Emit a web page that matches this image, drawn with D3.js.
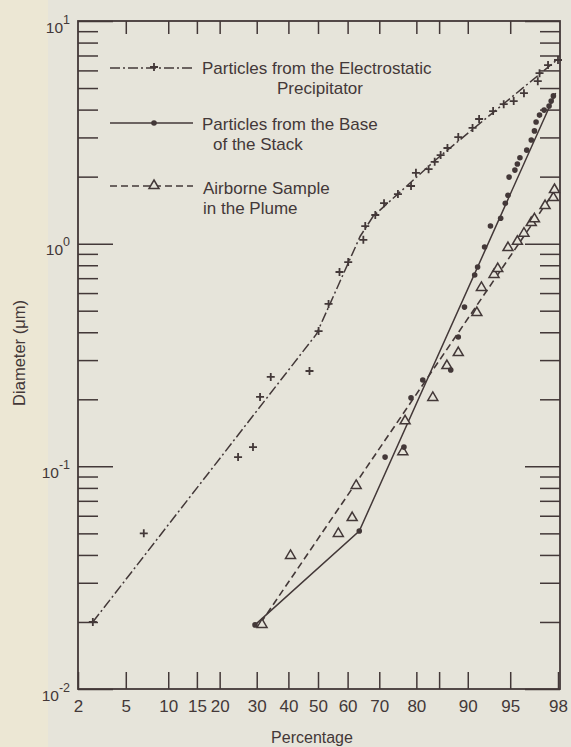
<!doctype html>
<html lang="en">
<head>
  <meta charset="UTF-8">
  <title>Particle size distribution</title>
  <script src="https://d3js.org/d3.v7.min.js"></script>
  <style>
    body { margin: 0; background: #e7e5db; }
    svg { display: block; font-family: "Liberation Sans", Arial, sans-serif; }
  </style>
</head>
<body>
  <script>

    // percentages on the probability axis
    var xTicks  = [2, 5, 10, 15, 20, 30, 40, 50, 60, 70, 80, 85, 90, 95, 98];
    var xLabels = ["2", "5", "10", "15", "20", "30", "40", "50", "60", "70", "80", "", "90", "95", "98"];
    var yMajor  = [0.01, 0.1, 1, 10];
    var yExp    = ["-2", "-1", "0", "1"];

    // particles from the electrostatic precipitator (+)
    var esPct = [2.7, 6.8, 24.7, 28.9, 31.0, 34.3, 47.1, 50.2, 53.6, 57.3, 60.2, 65.1, 65.7, 68.8, 71.4, 75.3, 78.7,
                 79.9, 82.8, 84.1, 85.3, 86.6, 88.5, 90.7, 91.6, 93.3, 94.4, 95.3, 96.1, 97.0, 97.1, 97.55, 98.0];
    var esDia = [0.020, 0.050, 0.110, 0.122, 0.205, 0.252, 0.268, 0.405, 0.536, 0.746, 0.827, 1.04, 1.20, 1.345, 1.52, 1.67, 1.815,
                 2.08, 2.16, 2.33, 2.50, 2.69, 3.01, 3.31, 3.63, 3.94, 4.23, 4.37, 4.74, 5.37, 5.83, 6.34, 6.68];
    var esFitPct = [2.7, 49.5, 64.1, 68.2, 84.7, 98.0];
    var esFitDia = [0.020, 0.393, 1.08, 1.33, 2.42, 6.75];

    // particles from the base of the stack (dots)
    var stPct = [29.5, 63.8, 71.7, 76.9, 78.7, 81.5, 87.2, 88.5, 89.5, 91.0, 91.4, 92.3, 93.0, 94.1, 94.55, 94.8, 94.9,
                 95.4, 95.6, 95.8, 96.3, 96.6, 96.8, 96.9, 97.1, 97.35, 97.6, 97.7, 97.8];
    var stDia = [0.0194, 0.0512, 0.110, 0.122, 0.203, 0.244, 0.271, 0.381, 0.519, 0.723, 0.786, 0.966, 1.20, 1.30, 1.52, 1.65, 1.99,
                 2.14, 2.28, 2.43, 2.63, 2.92, 3.21, 3.52, 3.78, 3.98, 4.15, 4.37, 4.61];
    var stFitPct = [29.5, 63.8, 97.9];
    var stFitDia = [0.0194, 0.0512, 4.75];

    // airborne sample in the plume (triangles)
    var plPct = [31.6, 40.7, 56.9, 61.5, 62.8, 76.6, 77.2, 83.7, 86.5, 88.5, 91.3, 91.9, 93.4, 93.8, 94.8, 95.6, 96.1,
                 96.6, 96.8, 97.4, 97.8, 97.85];
    var plDia = [0.0196, 0.040, 0.0502, 0.0592, 0.0825, 0.117, 0.161, 0.205, 0.285, 0.326, 0.493, 0.639, 0.731, 0.777, 0.966,
                 1.03, 1.12, 1.25, 1.30, 1.49, 1.62, 1.76];
    var plFitPct = [31.2, 97.85];
    var plFitDia = [0.0198, 1.72];

    var ink = "#433838";

    // inverse normal cdf (Acklam)
    function probit (p) {
      var a = [-39.69683028665376, 220.9460984245205, -275.9285104469687, 138.3577518672690, -30.66479806614716, 2.506628277459239]
        , b = [-54.47609879822406, 161.5858368580409, -155.6989798598866, 66.80131188771972, -13.28068155288572]
        , c = [-0.007784894002430293, -0.3223964580411365, -2.400758277161838, -2.549732539343734, 4.374664141464968, 2.938163982698783]
        , d = [0.007784695709041462, 0.3224671290700398, 2.445134137142996, 3.754408661907416]
        , pl = 0.02425
        , q, r;
      if (p < pl) {
        q = Math.sqrt(-2 * Math.log(p));
        return (((((c[0]*q+c[1])*q+c[2])*q+c[3])*q+c[4])*q+c[5]) / ((((d[0]*q+d[1])*q+d[2])*q+d[3])*q+1);
      }
      if (p > 1 - pl) {
        q = Math.sqrt(-2 * Math.log(1 - p));
        return -(((((c[0]*q+c[1])*q+c[2])*q+c[3])*q+c[4])*q+c[5]) / ((((d[0]*q+d[1])*q+d[2])*q+d[3])*q+1);
      }
      q = p - 0.5; r = q * q;
      return (((((a[0]*r+a[1])*r+a[2])*r+a[3])*r+a[4])*r+a[5])*q / (((((b[0]*r+b[1])*r+b[2])*r+b[3])*r+b[4])*r+1);
    }

    var W = 571, H = 747
      , mLeft = 78, mRight = 560, mTop = 21, mBottom = 689;

    var xz = d3.scaleLinear().domain([probit(0.02), probit(0.98)]).range([mLeft, 558]);
    var x = function (p) { return xz(probit(p / 100)); };
    var y = d3.scaleLog().domain([0.01, 10]).range([mBottom, mTop]);

    var yMinor = [];
    yMajor.slice(0, 3).forEach(function (m) {
      for (var k = 2; k <= 9; k++) yMinor.push(m * k);
    });

    var svg = d3.select("body").append("svg").attr("width", W).attr("height", H);

    svg.append("rect").attr("width", W).attr("height", H).attr("fill", "#e6e4da");
    svg.append("rect").attr("width", 48).attr("height", H).attr("fill", "#ece7d4");

    // axes
    var xTickZ = xTicks.map(function (p) { return probit(p / 100); });

    var gb = svg.append("g").attr("transform", "translate(0," + mBottom + ")")
      .call(d3.axisBottom(xz).tickValues(xTickZ).tickSize(-17).tickSizeOuter(0).tickPadding(11)
        .tickFormat(function (d, i) { return xLabels[i]; }));
    svg.append("g").attr("transform", "translate(0," + mTop + ")")
      .call(d3.axisTop(xz).tickValues(xTickZ.slice(1, -1)).tickSize(-13).tickSizeOuter(0).tickFormat(""));

    var gl = svg.append("g").attr("transform", "translate(" + mLeft + ",0)")
      .call(d3.axisLeft(y).tickValues(yMajor).tickSize(-35).tickSizeOuter(0).tickPadding(8)
        .tickFormat(function () { return ""; }));
    svg.append("g").attr("transform", "translate(" + mLeft + ",0)")
      .call(d3.axisLeft(y).tickValues(yMinor).tickSize(-20).tickSizeOuter(0).tickFormat(""));
    svg.append("g").attr("transform", "translate(" + mRight + ",0)")
      .call(d3.axisRight(y).tickValues(yMajor).tickSize(-35).tickSizeOuter(0).tickFormat(""));
    svg.append("g").attr("transform", "translate(" + mRight + ",0)")
      .call(d3.axisRight(y).tickValues(yMinor).tickSize(-20).tickSizeOuter(0).tickFormat(""));

    svg.selectAll(".domain").remove();
    svg.selectAll(".tick line").attr("stroke", ink).attr("stroke-width", 1.5);

    gb.selectAll("text").attr("fill", ink).attr("font-size", 17).attr("font-family", null);

    gl.selectAll("text")
      .attr("fill", ink).attr("font-size", 15.5).attr("font-family", null)
      .attr("dy", "11px")
      .each(function (d, i) {
        var t = d3.select(this);
        t.text("10");
        t.append("tspan").attr("dy", -9).attr("font-size", 12.5).text(yExp[i]);
      });

    svg.append("rect")
      .attr("x", mLeft).attr("y", mTop)
      .attr("width", mRight - mLeft).attr("height", mBottom - mTop)
      .attr("fill", "none").attr("stroke", ink).attr("stroke-width", 1.8);

    svg.append("text").attr("x", 312).attr("y", 743)
      .attr("text-anchor", "middle").attr("font-size", 16).attr("fill", ink)
      .text("Percentage");
    svg.append("text")
      .attr("transform", "translate(25,353) rotate(-90)")
      .attr("text-anchor", "middle").attr("font-size", 16.5).attr("fill", ink)
      .text("Diameter  (\u03bcm)");

    // markers
    function plus (g, cx, cy) {
      g.append("path")
        .attr("d", "M" + (cx - 4) + "," + cy + "H" + (cx + 4) + "M" + cx + "," + (cy - 4) + "V" + (cy + 4))
        .attr("stroke", ink).attr("stroke-width", 1.8).attr("fill", "none");
    }
    function dot (g, cx, cy) {
      g.append("circle").attr("cx", cx).attr("cy", cy).attr("r", 2.8).attr("fill", ink);
    }
    function tri (g, cx, cy) {
      g.append("path")
        .attr("d", "M" + cx + "," + (cy - 5) + "L" + (cx + 5) + "," + (cy + 3.5) + "L" + (cx - 5) + "," + (cy + 3.5) + "Z")
        .attr("stroke", ink).attr("stroke-width", 1.5).attr("fill", "#e6e4da");
    }

    var line = d3.line()
      .x(function (d) { return x(d[0]); })
      .y(function (d) { return y(d[1]); });

    function zip (a, b) { return a.map(function (v, i) { return [v, b[i]]; }); }

    var plot = svg.append("g");

    plot.append("path").datum(zip(esFitPct, esFitDia)).attr("d", line)
      .attr("fill", "none").attr("stroke", ink).attr("stroke-width", 1.5).attr("stroke-dasharray", "10,3,2,3");
    plot.append("path").datum(zip(stFitPct, stFitDia)).attr("d", line)
      .attr("fill", "none").attr("stroke", ink).attr("stroke-width", 1.5);
    plot.append("path").datum(zip(plFitPct, plFitDia)).attr("d", line)
      .attr("fill", "none").attr("stroke", ink).attr("stroke-width", 1.6).attr("stroke-dasharray", "7,4");

    zip(plPct, plDia).forEach(function (d) { tri(plot, x(d[0]), y(d[1])); });
    zip(stPct, stDia).forEach(function (d) { dot(plot, x(d[0]), y(d[1])); });
    zip(esPct, esDia).forEach(function (d) { plus(plot, x(d[0]), y(d[1])); });

    // legend
    var lg = svg.append("g");
    lg.append("line").attr("x1", 110).attr("x2", 193).attr("y1", 68).attr("y2", 68)
      .attr("stroke", ink).attr("stroke-width", 1.5).attr("stroke-dasharray", "10,3,2,3");
    plus(lg, 154, 67);
    lg.append("line").attr("x1", 110).attr("x2", 193).attr("y1", 123).attr("y2", 123)
      .attr("stroke", ink).attr("stroke-width", 1.5);
    dot(lg, 154, 123);
    lg.append("line").attr("x1", 110).attr("x2", 193).attr("y1", 186).attr("y2", 186)
      .attr("stroke", ink).attr("stroke-width", 1.6).attr("stroke-dasharray", "7,4");
    tri(lg, 154, 185);

    var legendText = [
      ["Particles from the Electrostatic", 202, 74],
      ["Precipitator", 277, 94],
      ["Particles from the Base", 202, 130],
      ["of the Stack", 213, 150],
      ["Airborne Sample", 203, 194],
      ["in the Plume", 203, 214]
    ];
    lg.selectAll("text.leg").data(legendText).enter().append("text")
      .attr("x", function (d) { return d[1]; })
      .attr("y", function (d) { return d[2]; })
      .attr("font-size", 17).attr("fill", ink)
      .text(function (d) { return d[0]; });

  </script>
</body>
</html>
